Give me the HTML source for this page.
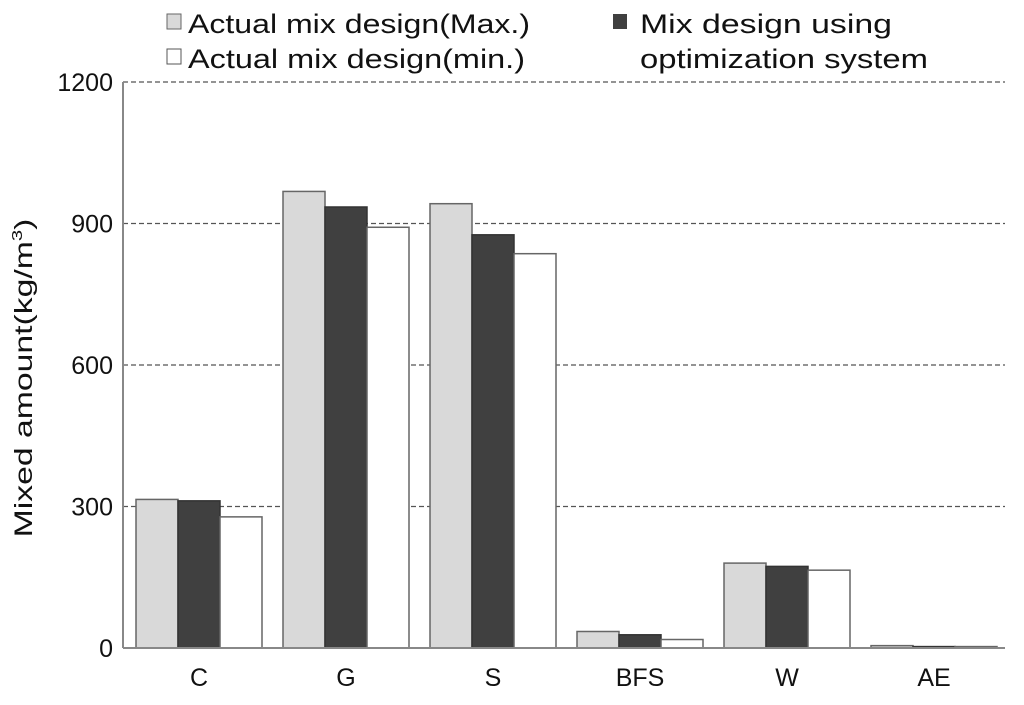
<!DOCTYPE html>
<html><head><meta charset="utf-8"><style>
body{margin:0;background:#fff;}
svg{display:block;font-family:"Liberation Sans",Arial,sans-serif;}
</style></head><body>
<svg id="chart" width="1024" height="705" viewBox="0 0 1024 705" xmlns="http://www.w3.org/2000/svg">
<g id="legend">
  <g>
    <rect x="167" y="14" width="14" height="15" fill="#d9d9d9" stroke="#666" stroke-width="1"/>
    <text x="188" y="33" font-size="27" fill="#111" textLength="342" lengthAdjust="spacingAndGlyphs">Actual mix design(Max.)</text>
  </g>
  <g>
    <rect x="167" y="49" width="14" height="15" fill="#fff" stroke="#555" stroke-width="1"/>
    <text x="188" y="68" font-size="27" fill="#111" textLength="337" lengthAdjust="spacingAndGlyphs">Actual mix design(min.)</text>
  </g>
  <g>
    <rect x="613" y="14" width="14" height="15" fill="#404040"/>
    <text x="640" y="33" font-size="27" fill="#111" textLength="252" lengthAdjust="spacingAndGlyphs">Mix design using</text>
    <text x="640" y="68" font-size="27" fill="#111" textLength="288" lengthAdjust="spacingAndGlyphs">optimization system</text>
  </g>
</g>
<g id="grid"></g>
<g id="bars"></g>
<g id="axes"></g>
<text transform="translate(32,378) rotate(-90) scale(1.35,1)" text-anchor="middle" font-size="25" fill="#111">Mixed amount(kg/m<tspan font-size="15" dy="-10">3</tspan><tspan dy="10">)</tspan></text>
</svg>
<script>
const categories = ["C","G","S","BFS","W","AE"];
const maxValues = [315,968,942,35,180,5];
const optValues = [312,935,876,28,173,3];
const minValues = [278,892,836,18,165,3];
const yTicks = [0,300,600,900,1200];

const NS="http://www.w3.org/2000/svg";
const plotLeft=123,plotRight=1005,plotTop=82,plotBottom=648,yMax=1200;
const groupW=(plotRight-plotLeft)/categories.length;
const barW=42,barOffset=13;
function yScale(v){return plotBottom-(v/yMax)*(plotBottom-plotTop);}
function mk(tag,attrs,parent){const e=document.createElementNS(NS,tag);for(const k in attrs)e.setAttribute(k,attrs[k]);parent.appendChild(e);return e;}
const grid=document.getElementById('grid'),bars=document.getElementById('bars'),axes=document.getElementById('axes');
yTicks.forEach(t=>{
  if(t>0){const l=mk('line',{x1:plotLeft,x2:plotRight,y1:yScale(t),y2:yScale(t),stroke:'#555','stroke-width':1.2,'stroke-dasharray':'5,3'},grid);
  
  }
  const tx=mk('text',{x:plotLeft-10,y:yScale(t)+9,'text-anchor':'end','font-size':25,fill:'#111'},axes);
  tx.textContent=t;
  
  
});
const series=[{vals:maxValues,fill:'#d9d9d9',stroke:'#666',n:'max'},{vals:optValues,fill:'#404040',stroke:'#333',n:'opt'},{vals:minValues,fill:'#ffffff',stroke:'#666',n:'min'}];
categories.forEach((c,i)=>{
  const gx=plotLeft+i*groupW;
  series.forEach((s,j)=>{
    const v=s.vals[i];
    const r=mk('rect',{x:gx+barOffset+j*barW,y:yScale(v),width:barW,height:plotBottom-yScale(v),fill:s.fill,stroke:s.stroke,'stroke-width':1.5},bars);
    
    
  });
  const tx=mk('text',{x:gx+barOffset+1.5*barW,y:plotBottom+38,'text-anchor':'middle','font-size':25,fill:'#111'},axes);
  tx.textContent=c;
  
  
});
const ya=mk('line',{x1:plotLeft,x2:plotLeft,y1:plotTop,y2:plotBottom,stroke:'#888','stroke-width':2},axes);


const xa=mk('line',{x1:plotLeft,x2:plotRight,y1:plotBottom,y2:plotBottom,stroke:'#888','stroke-width':2},axes);


</script>
</body></html>
